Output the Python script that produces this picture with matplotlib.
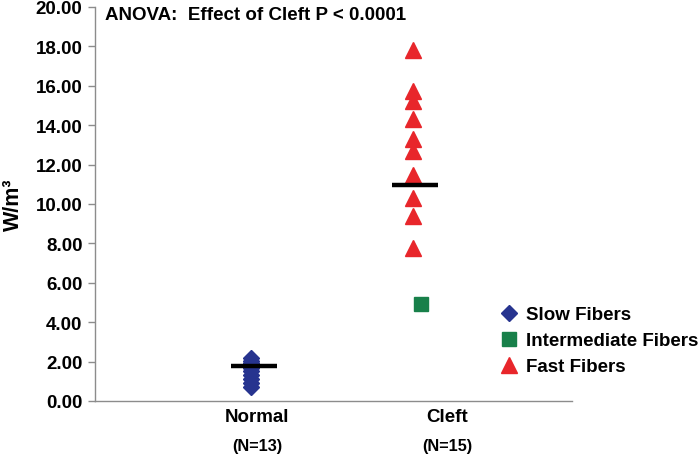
import matplotlib
matplotlib.use("Agg")
import matplotlib.pyplot as plt
from matplotlib.lines import Line2D
import matplotlib.transforms as mtransforms

plt.rcParams['font.family'] = ['Liberation Sans', 'DejaVu Sans']
plt.rcParams['font.weight'] = 'bold'

# ---- data ----
categories = ["Normal", "Cleft"]
n_labels = ["(N=13)", "(N=15)"]
group_x = [1.0, 2.0]
slow_fibers = [2.2, 2.05, 1.95, 1.9, 1.85, 1.8, 1.75, 1.65, 1.5, 1.3, 1.1, 0.9, 0.7]
intermediate_fibers = [4.92]
fast_fibers = [17.83, 15.75, 15.25, 14.3, 13.3, 12.7, 11.45, 10.3, 9.4, 7.75]
group_means = [1.8, 10.95]
yticks = [0, 2, 4, 6, 8, 10, 12, 14, 16, 18, 20]
title = "ANOVA:  Effect of Cleft P < 0.0001"
legend_labels = ["Slow Fibers", "Intermediate Fibers", "Fast Fibers"]

c_slow = "#27348f"
c_int = "#18804a"
c_fast = "#e8262b"
grey = "#8c8c8c"

fig = plt.figure(figsize=(7.0, 4.56), dpi=100)
ax = fig.add_axes([95/700, 1-402/456, (572-95)/700, (402-8)/456])

ax.plot([group_x[0]-0.02]*len(slow_fibers), slow_fibers, linestyle='none',
        marker='D', ms=8, color=c_slow, mec=c_slow)
ax.plot([group_x[1]+0.04]*len(intermediate_fibers), intermediate_fibers, linestyle='none',
        marker='s', ms=10.5, color=c_int, mec=c_int)
ax.plot([group_x[1]-0.01]*len(fast_fibers), fast_fibers, linestyle='none',
        marker='^', ms=11, color=c_fast, mec=c_fast)
for x, m in zip(group_x, group_means):
    ax.plot([x-0.145, x+0.145], [m, m], color='black', lw=3.2, solid_capstyle='butt')

ax.set_xlim(0.012, 2.975)
ax.set_ylim(0, 20)
ax.set_yticks(yticks)
ax.set_yticklabels([f"{v:.2f}" for v in yticks])
ax.set_xticks([])
ax.tick_params(axis='y', direction='out', length=5, color=grey, width=1,
               labelsize=13.5, pad=4)
for s in ['top', 'right']:
    ax.spines[s].set_visible(False)
for s in ['left', 'bottom']:
    ax.spines[s].set_color(grey)
    ax.spines[s].set_linewidth(1)

trans = mtransforms.blended_transform_factory(ax.transData, fig.transFigure)
label_x = [1.02, 2.2]
for lx, cat, nl in zip(label_x, categories, n_labels):
    ax.text(lx, 1-418/456, cat, transform=trans, ha='center', va='center',
            fontsize=13.5, fontweight='bold')
    ax.text(lx, 1-447/456, nl, transform=trans, ha='center', va='center',
            fontsize=11.7, fontweight='bold')

fig.text(105/700, 1-15/456, title, ha='left', va='center', fontsize=13.5, fontweight='bold')
fig.text(13/700, 1-205/456, "W/m³", rotation=90, ha='center', va='center',
         fontsize=15.5, fontweight='bold')

handles = [Line2D([], [], linestyle='none', marker='D', ms=8, color=c_slow),
           Line2D([], [], linestyle='none', marker='s', ms=10.5, color=c_int),
           Line2D([], [], linestyle='none', marker='^', ms=11, color=c_fast)]
fig.legend(handles, legend_labels, loc='upper left', bbox_to_anchor=(501/700, 1-307/456),
           frameon=False, handlelength=0.9, handletextpad=0.45,
           labelspacing=0.48, borderaxespad=0, borderpad=0,
           prop={'weight': 'bold', 'size': 13.5})

fig.savefig("out.png", dpi=100)
